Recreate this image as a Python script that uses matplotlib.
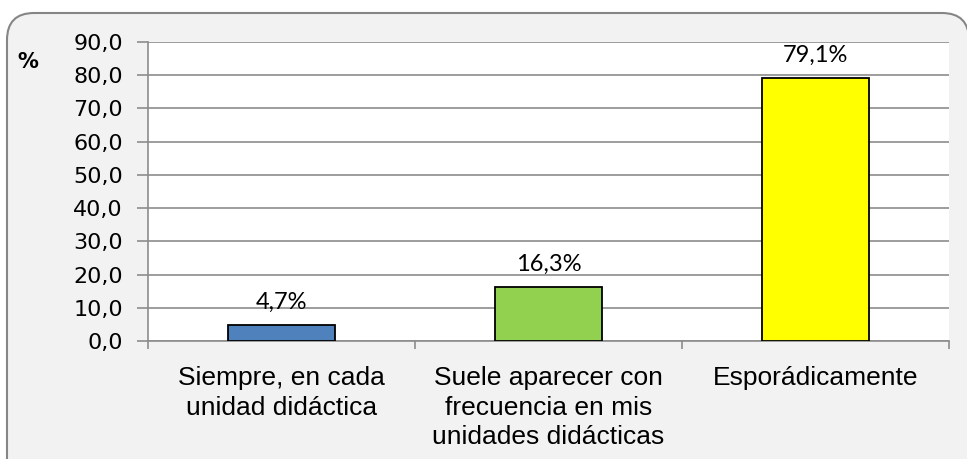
import matplotlib.pyplot as plt
from matplotlib.patches import FancyBboxPatch

# data
categories = ['Siempre, en cada\nunidad didáctica',
              'Suele aparecer con\nfrecuencia en mis\nunidades didácticas',
              'Esporádicamente']
values = [4.7, 16.3, 79.1]
bar_colors = ['#4F81BD', '#92D050', '#FFFF00']
yticks = [0, 10, 20, 30, 40, 50, 60, 70, 80, 90]

W, H = 967, 459
fig = plt.figure(figsize=(W / 100, H / 100), dpi=100)
fig.patch.set_facecolor('white')

# rounded grey background box (Excel chart area)
box = FancyBboxPatch((7 / W, -40 / H), (962 / W), (446 / H) + 40 / H,
                     boxstyle='round,pad=0,rounding_size=0.028',
                     transform=fig.transFigure, facecolor='#F2F2F2',
                     edgecolor='#868686', linewidth=1.5, mutation_aspect=W / H,
                     zorder=-5)
fig.patches.append(box)

ax = fig.add_axes([148 / W, 1 - 341 / H, (949 - 148) / W, (341 - 42) / H])
ax.set_facecolor('white')

x = list(range(len(categories)))
ax.bar(x, values, width=0.4, color=bar_colors, edgecolor='black', linewidth=1.3, zorder=3)

for xi, v in zip(x, values):
    ax.annotate(f'{v:.1f}%'.replace('.', ','), (xi, v), xytext=(0, 9),
                textcoords='offset points', ha='center', va='bottom',
                fontsize=17, family='Lato')

ax.set_xlim(-0.5, len(categories) - 0.5)
ax.set_ylim(0, 90)
ax.set_yticks(yticks)
ax.set_yticklabels([f'{t:.1f}'.replace('.', ',') for t in yticks], fontsize=16)
ax.yaxis.grid(True, color='#8C8C8C', linewidth=1.2, zorder=0)

# category labels centred, tick marks on category boundaries
ax.set_xticks([-0.5, 0.5, 1.5, 2.5])
ax.set_xticklabels([])
ax.set_xticks(x, minor=True)
ax.set_xticklabels(categories, minor=True, fontsize=19, family='Liberation Sans',
                   linespacing=1.3)
ax.tick_params(axis='x', which='minor', length=0, pad=18)
ax.tick_params(axis='x', which='major', length=6, direction='out', color='#8C8C8C', width=1.2)
ax.tick_params(axis='y', length=8, direction='out', color='#8C8C8C', width=1.2, pad=10)

for side in ['top', 'right']:
    ax.spines[side].set_visible(False)
for side in ['left', 'bottom']:
    ax.spines[side].set_color('#8C8C8C')
    ax.spines[side].set_linewidth(1.2)

fig.text(17 / W, 1 - 62 / H, '%', fontsize=15, fontweight='bold', va='center', ha='left')

fig.savefig('out.png', dpi=100)
